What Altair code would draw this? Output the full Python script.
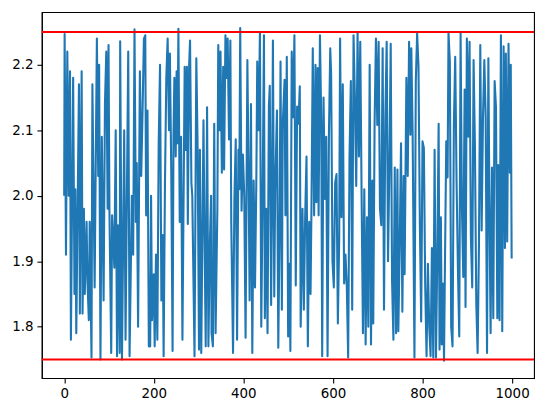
import altair as alt
import pandas as pd

# Sample positions (index) and values
x_idx = [
    0, 1, 4, 7, 10, 13, 15, 20, 23, 25, 27, 33, 35, 39, 41, 44, 46, 50, 52, 55,
    57, 61, 63, 68, 73, 76, 78, 81, 84, 88, 91, 94, 97, 99, 101, 105, 107, 112, 115, 118,
    120, 124, 125, 129, 134, 137, 143, 146, 151, 154, 157, 160, 162, 165, 169, 172, 175, 178, 181, 183,
    186, 189, 192, 194, 196, 200, 202, 205, 208, 211, 214, 217, 220, 222, 225, 228, 231, 234, 236, 239,
    242, 244, 246, 249, 251, 253, 255, 258, 261, 264, 269, 271, 274, 276, 279, 281, 284, 286, 291, 295,
    298, 301, 303, 306, 311, 313, 316, 319, 322, 325, 328, 329, 332, 335, 338, 342, 344, 347, 349, 352,
    355, 357, 360, 363, 365, 368, 371, 373, 377, 380, 383, 386, 389, 391, 393, 396, 399, 402, 405, 409,
    412, 414, 417, 420, 423, 426, 429, 431, 434, 437, 440, 443, 446, 448, 451, 454, 457, 459, 462, 464,
    466, 469, 471, 475, 478, 481, 483, 486, 488, 492, 494, 497, 500, 503, 505, 508, 511, 514, 517, 520,
    523, 526, 528, 532, 535, 538, 541, 544, 547, 550, 552, 555, 558, 561, 563, 566, 568, 571, 574, 576,
    579, 582, 585, 588, 591, 594, 596, 599, 602, 605, 608, 611, 614, 616, 619, 622, 625, 628, 631, 634,
    637, 640, 643, 646, 649, 652, 655, 658, 661, 664, 667, 670, 673, 676, 679, 682, 685, 688, 690, 693,
    696, 699, 702, 705, 708, 711, 714, 717, 720, 723, 726, 729, 732, 735, 738, 741, 744, 746, 749, 752,
    755, 758, 760, 762, 764, 767, 770, 773, 775, 778, 782, 785, 788, 791, 794, 797, 800, 803, 806, 809,
    812, 815, 818, 821, 824, 827, 830, 833, 836, 838, 841, 843, 846, 848, 850, 853, 856, 858, 861, 864,
    867, 870, 873, 876, 879, 882, 885, 888, 891, 894, 896, 899, 902, 905, 908, 911, 914, 917, 920, 923,
    926, 929, 932, 935, 938, 941, 944, 947, 949, 952, 955, 958, 961, 964, 967, 969, 972, 975, 978, 981,
    984, 986, 989, 992, 995, 997, 999,
]
y_val = [
    2.0, 2.247, 1.91, 2.22, 2.0, 2.19, 1.78, 2.18, 1.85, 2.01, 1.79, 2.17, 1.82, 2.19, 1.82, 1.98, 1.85, 1.96, 1.87, 1.81,
    1.96, 1.753, 2.17, 1.86, 2.24, 2.03, 2.20, 1.75, 2.09, 1.84, 2.14, 2.22, 1.98, 2.23, 1.98, 1.76, 1.97, 1.89, 2.10, 1.755,
    1.955, 1.76, 2.236, 1.75, 2.10, 1.78, 2.22, 1.755, 2.0, 1.91, 2.254, 1.96, 2.05, 1.80, 2.19, 2.03, 2.13, 2.24, 2.245, 1.97,
    2.13, 1.77, 1.77, 2.0, 1.81, 1.88, 1.77, 1.91, 1.78, 2.08, 2.20, 1.84, 1.94, 1.755, 2.02, 2.18, 2.24, 2.10, 2.217, 2.04,
    1.763, 2.09, 2.18, 2.06, 2.19, 2.08, 2.255, 1.96, 2.09, 1.78, 2.197, 2.07, 2.197, 1.957, 2.20, 2.237, 2.02, 2.0, 1.755, 2.21,
    2.07, 1.765, 2.07, 1.76, 2.115, 1.96, 1.77, 2.135, 1.77, 1.92, 2.0, 1.79, 1.77, 2.11, 1.79, 1.98, 2.23, 2.10, 2.22, 2.035,
    2.197, 2.04, 2.245, 2.18, 2.24, 2.086, 2.237, 1.96, 1.76, 1.995, 2.086, 1.78, 2.07, 2.01, 2.256, 1.977, 2.063, 2.0, 1.783, 2.207,
    2.01, 1.84, 2.14, 1.76, 2.023, 1.86, 2.023, 2.205, 2.10, 2.25, 1.80, 2.0, 2.245, 1.813, 1.98, 1.79, 2.136, 2.168, 1.833, 2.0,
    2.237, 1.846, 2.006, 2.13, 1.768, 1.96, 2.205, 1.826, 2.11, 2.177, 1.97, 2.212, 1.785, 1.896, 1.763, 2.22, 2.12, 2.245, 1.863, 2.136,
    2.11, 2.167, 1.80, 1.98, 1.826, 1.967, 2.06, 1.77, 1.96, 1.85, 1.977, 2.225, 1.97, 2.2, 1.99, 2.195, 1.97, 2.245, 2.11, 1.755,
    2.15, 1.995, 2.09, 1.755, 2.09, 2.225, 2.185, 1.90, 1.86, 2.02, 2.033, 1.805, 1.935, 2.24, 1.967, 2.17, 1.866, 1.91, 1.86, 1.753,
    2.06, 2.175, 1.826, 2.245, 2.15, 2.015, 2.25, 2.06, 2.235, 2.0, 1.79, 2.01, 1.773, 1.967, 1.80, 2.2, 1.773, 2.023, 1.805, 2.11,
    2.24, 2.108, 2.235, 1.98, 1.955, 2.225, 1.826, 2.12, 2.235, 1.90, 2.045, 2.232, 1.87, 1.78, 2.043, 1.79, 2.04, 1.793, 1.92, 2.08,
    1.823, 2.03, 1.88, 2.03, 2.18, 2.03, 2.235, 2.093, 2.225, 2.09, 1.753, 2.175, 2.248, 2.197, 1.96, 1.808, 2.083, 2.073, 1.863, 1.755,
    1.896, 1.80, 1.755, 1.92, 1.753, 2.07, 1.753, 1.906, 2.11, 1.765, 1.967, 1.773, 1.866, 1.748, 1.89, 2.083, 2.028, 2.248, 2.205, 1.80,
    1.77, 2.108, 2.212, 2.023, 1.89, 1.785, 2.248, 1.98, 1.876, 2.162, 1.83, 2.24, 2.09, 2.235, 1.937, 1.86, 2.207, 2.075, 1.836, 1.76,
    1.924, 2.23, 1.947, 2.12, 2.207, 2.12, 1.76, 2.21, 2.015, 1.79, 2.043, 1.813, 2.175, 2.135, 1.813, 2.047, 1.81, 2.245, 1.793, 2.228,
    1.92, 2.217, 1.93, 2.232, 2.035, 2.2, 1.904,
]
bounds = [1.75, 2.25]
x_ticks = [0, 200, 400, 600, 800, 1000]
y_ticks = [1.8, 1.9, 2.0, 2.1, 2.2]

series = pd.DataFrame({"x": x_idx, "y": y_val})
limits = pd.DataFrame({"y": bounds})

xscale = alt.Scale(domain=[-49.95, 1048.95], nice=False, zero=False)
yscale = alt.Scale(domain=[1.7216, 2.2804], nice=False, zero=False)

axis_common = dict(
    grid=False,
    domainColor="black",
    domainWidth=1.1,
    tickColor="black",
    tickWidth=1.1,
    tickSize=4.9,
    labelPadding=4.0,
    labelColor="black",
    labelFont="DejaVu Sans",
    labelFontSize=13.5,
    title=None,
)

line = alt.Chart(series).mark_line(
    color="#1f77b4", strokeWidth=2.1, strokeJoin="round", clip=True
).encode(
    x=alt.X("x:Q", scale=xscale, axis=alt.Axis(values=x_ticks, format="d", **axis_common)),
    y=alt.Y("y:Q", scale=yscale, axis=alt.Axis(values=y_ticks, format=".1f", **axis_common)),
    order="x:Q",
)

rules = alt.Chart(limits).mark_rule(color="#ff0000", strokeWidth=2.1).encode(
    y=alt.Y("y:Q", scale=yscale)
)

chart = (
    alt.layer(line, rules)
    .properties(
        width=495,
        height=368,
        autosize=alt.AutoSizeParams(type="none"),
        padding={"left": 34, "top": 3, "right": 5, "bottom": 26},
        background="white",
    )
    .configure_view(stroke="black", strokeWidth=1.1)
)

chart.save("out.html", embed_options={"renderer": "svg", "actions": False})
